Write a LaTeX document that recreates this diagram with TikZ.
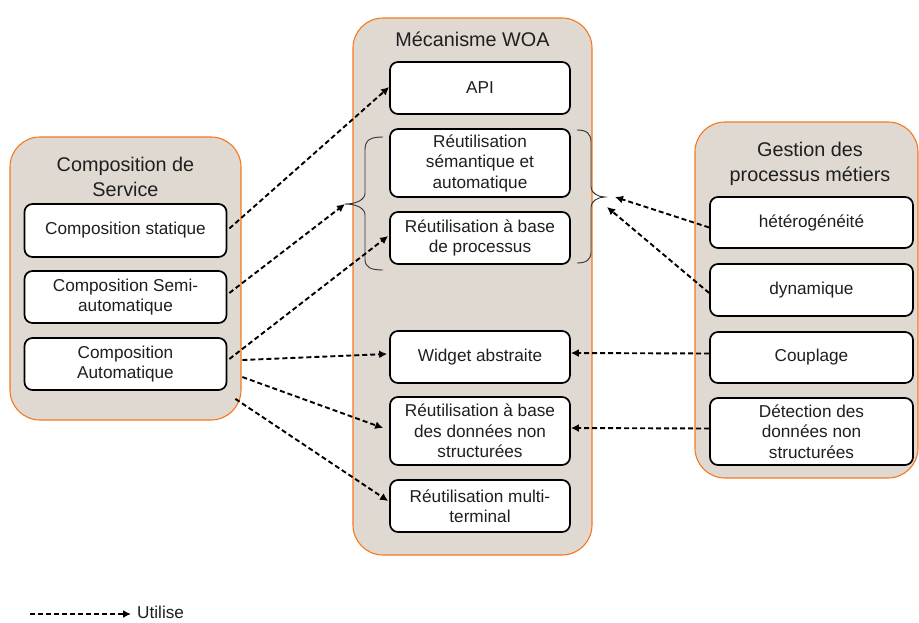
\documentclass[tikz,border=0pt]{standalone}
\usepackage{fontspec}
\setmainfont{Liberation Sans}
\usetikzlibrary{arrows.meta,calc}
\definecolor{panelfill}{RGB}{223,217,210}
\definecolor{panelline}{RGB}{245,120,30}
\tikzset{
  panel/.style={draw=panelline, line width=1.1pt, fill=panelfill, rounded corners=30pt},
  paneltitle/.style={align=center, font=\fontsize{19.8}{25}\selectfont, text=black!88, inner sep=0pt},
  item/.style={draw=black, line width=1.7pt, fill=white, rounded corners=8pt,
    align=center, font=\fontsize{17.2}{20.5}\selectfont, text=black!88, inner sep=0pt},
  uses/.style={draw=black, line width=1.9pt, dash pattern=on 5pt off 3pt,
    -{Latex[length=8pt,width=8pt]}},
  brace/.style={draw=black!80, line width=0.9pt}
}
\begin{document}
\begin{tikzpicture}[x=1pt,y=-1pt]
\useasboundingbox (0,0) rectangle (919,622);

% panels
\draw[panel] (10,137) rectangle (241,420);
\draw[panel] (353,18) rectangle (592,555);
\draw[panel] (695,122) rectangle (918,478);

\node[paneltitle] (tleft) at (125.5,177) {Composition de\\Service};
\node[paneltitle] (tmid) at (472.5,39) {Mécanisme WOA};
\node[paneltitle] (tright) at (810,164) {Gestion des\\processus métiers};

% left boxes
\node[item, minimum width=202pt, minimum height=53pt] (cs) at (125.5,230.5) {Composition statique};
\node[item, minimum width=202pt, minimum height=52pt] (csa) at (125.5,297) {Composition Semi-\\automatique};
\node[item, minimum width=202pt, minimum height=52pt] (ca) at (125.5,364) {Composition\\Automatique};

% middle boxes
\node[item, minimum width=180pt, minimum height=52pt] (api) at (480,88) {API};
\node[item, minimum width=180pt, minimum height=68pt] (rsa) at (480,163) {Réutilisation\\sémantique et\\automatique};
\node[item, minimum width=180pt, minimum height=52pt] (rbp) at (480,238) {Réutilisation à base\\de processus};
\node[item, minimum width=180pt, minimum height=52pt] (wa) at (480,357) {Widget abstraite};
\node[item, minimum width=180pt, minimum height=68pt] (rdn) at (480,431) {Réutilisation à base\\des données non\\structurées};
\node[item, minimum width=180pt, minimum height=52pt] (rmt) at (480,506) {Réutilisation multi-\\terminal};

% right boxes
\node[item, minimum width=203pt, minimum height=51pt] (het) at (811.5,222.5) {hétérogénéité};
\node[item, minimum width=203pt, minimum height=52pt] (dyn) at (811.5,290) {dynamique};
\node[item, minimum width=203pt, minimum height=51pt] (cpl) at (811.5,357.5) {Couplage};
\node[item, minimum width=203pt, minimum height=67pt] (det) at (811.5,431.5) {Détection des\\données non\\structurées};

% braces grouping the two reuse boxes
\coordinate (lb) at (345,204);
\coordinate (rb) at (605,197);
\draw[brace] (383,137) .. controls (370,137) and (365,140) .. (365,150)
  -- (365,193) .. controls (365,200) and (356,204) .. (lb)
  .. controls (356,204) and (365,208) .. (365,215)
  -- (365,259) .. controls (365,267) and (370,270) .. (383,270);
\draw[brace] (577,130) .. controls (586,130) and (591,133) .. (591,142)
  -- (591,187) .. controls (591,193) and (598,197) .. (rb)
  .. controls (598,197) and (591,201) .. (591,207)
  -- (591,252) .. controls (591,260) and (586,263) .. (577,263);

% connectors from the left panel
\draw[uses] ($(cs.east)+(2,-2)$) -- ($(api.west)+(0,-1)$);
\draw[uses] ($(csa.east)+(2,-4)$) -- (lb);
\draw[uses] ($(ca.east)+(2,-5)$) -- ($(rbp.west)+(-1,-2)$);
\draw[uses] ($(ca.east)+(15,-4)$) -- ($(wa.west)+(-2,-3)$);
\draw[uses] ($(ca.east)+(15,13)$) -- ($(rdn.west)+(-6,-3)$);
\draw[uses] ($(ca.south east)+(8,8)$) -- ($(rmt.west)+(-1,-5)$);

% connectors from the right panel
\draw[uses] ($(het.west)+(0,5)$) -- (615,197);
\draw[uses] ($(dyn.west)+(0,3)$) -- (607,207);
\draw[uses] ($(cpl.west)+(0,-4)$) -- ($(wa.east)+(0,-4)$);
\draw[uses] ($(det.west)+(0,-3)$) -- ($(rdn.east)+(0,-3)$);

% legend
\coordinate (lgs) at (30,614);
\node[anchor=west, inner sep=0pt, font=\fontsize{17.2}{20}\selectfont, text=black!88] (lgt) at (137,612) {Utilise};
\draw[uses] (lgs) -- ($(lgt.west)+(-6,2)$);
\end{tikzpicture}
\end{document}
